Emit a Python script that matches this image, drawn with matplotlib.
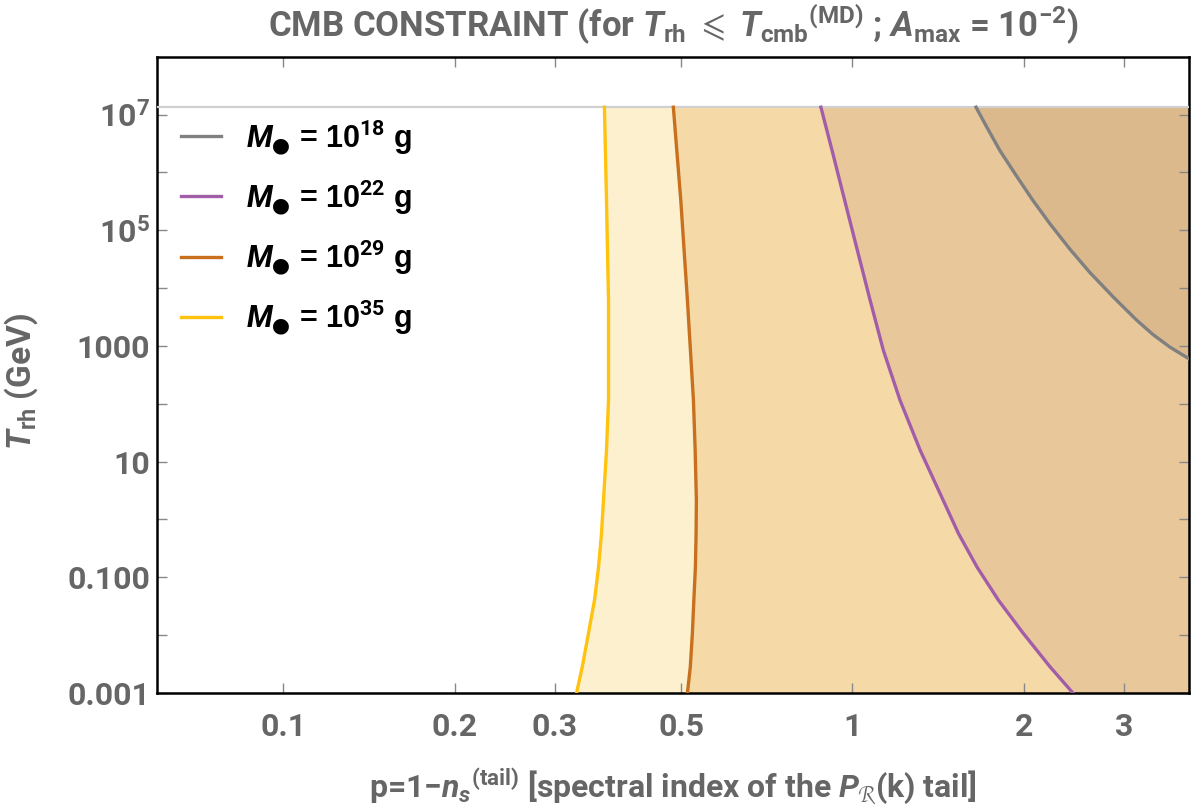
import matplotlib
matplotlib.use("Agg")
import matplotlib.pyplot as plt
from matplotlib.ticker import FixedLocator, NullLocator

# --- data (x = p, y = T_rh in GeV) ---
masses = ['18', '22', '29', '35']
line_colors = ['#808080', '#A25DA8', '#C8701E', '#FFC20E']
fill_colors = ['#DBB98C', '#E8C89B', '#F5DAA8', '#FCF0CE']

p_m18 = [1.648, 1.722, 1.815, 1.93, 2.075, 2.223, 2.41, 2.612, 2.88, 3.155, 3.37, 3.61, 3.9]
T_m18 = [1.34e7, 6.04e6, 2.39e6, 9.46e5, 3.27e5, 1.29e5, 4.7e4, 1.86e4, 6.8e3,
         2.8e3, 1.58e3, 9.55e2, 6.0e2]

p_m22 = [0.880, 0.924, 0.969, 1.020, 1.074, 1.133, 1.212, 1.315, 1.443, 1.535,
         1.655, 1.804, 1.993, 2.223, 2.439]
T_m22 = [1.34e7, 2.09e6, 3.27e5, 4.48e4, 6.14e3, 8.39e2, 1.15e2, 15.7, 2.15, 0.573,
         0.15, 0.0404, 0.0109, 0.00284, 0.001]

p_m29 = [0.4845, 0.4993, 0.5129, 0.5255, 0.5292, 0.5318, 0.5312, 0.5297, 0.5264, 0.5233, 0.5189, 0.5129]
T_m29 = [1.34e7, 3.27e5, 6.14e3, 1.15e2, 15.7, 2.15, 0.573, 0.15, 0.0404, 0.0109, 0.00284, 0.001]

p_m35 = [0.3666, 0.3697, 0.3727, 0.3727, 0.3697, 0.3652, 0.3623, 0.358, 0.3522, 0.3438, 0.3352, 0.3275]
T_m35 = [1.34e7, 3.27e5, 6.14e3, 1.15e2, 15.7, 2.15, 0.573, 0.15, 0.0404, 0.0109, 0.00284, 0.001]

T_top = 1.34e7
xticks = [0.1, 0.2, 0.3, 0.5, 1, 2, 3]
xticklabels = ['0.1', '0.2', '0.3', '0.5', '1', '2', '3']
yticks = [1e-3, 1e-2, 1e-1, 1, 10, 100, 1e3, 1e4, 1e5, 1e6, 1e7]
yticklabels = ['0.001', '', '0.100', '', '10', '', '1000', '', r'$\mathbf{10^5}$', '', r'$\mathbf{10^7}$']

curves = [(p_m18, T_m18), (p_m22, T_m22), (p_m29, T_m29), (p_m35, T_m35)]

TICKFONT = ['Roboto', 'DejaVu Sans']
GRAY = '#666666'
plt.rcParams['mathtext.fontset'] = 'custom'
plt.rcParams['mathtext.rm'] = 'Roboto:bold'
plt.rcParams['mathtext.bf'] = 'Roboto:bold'
plt.rcParams['mathtext.it'] = 'Roboto:bold:italic'
plt.rcParams['mathtext.fallback'] = 'stix'

xmin, xmax = 0.06, 3.9
ymin, ymax = 1e-3, 1e8

fig = plt.figure(figsize=(12, 8.09), dpi=100)
ax = fig.add_axes([0.1308, 0.1434, 0.86, 0.7865])
ax.set_xscale('log')
ax.set_yscale('log')

# filled regions: lightest (largest mass) first, darker ones on top
for (px, ty), fc in reversed(list(zip(curves, fill_colors))):
    ax.fill_betweenx(ty, px, xmax, color=fc, lw=0)

ax.axhline(T_top, color='#D0D0D0', lw=1.6, zorder=3)

handles = []
for (px, ty), lc, m in zip(curves, line_colors, masses):
    h, = ax.plot(px, ty, color=lc, lw=2.4, zorder=4,
                 label=r'$\mathit{M}_{●}$ = 10$^{%s}$ g' % m)
    handles.append(h)

ax.set_xlim(xmin, xmax)
ax.set_ylim(ymin, ymax)

ax.xaxis.set_major_locator(FixedLocator(xticks))
ax.xaxis.set_minor_locator(NullLocator())
ax.set_xticklabels(xticklabels)
ax.yaxis.set_major_locator(FixedLocator(yticks))
ax.yaxis.set_minor_locator(NullLocator())
ax.set_yticklabels(yticklabels)

ax.tick_params(which='both', direction='in', top=True, right=True,
               length=7, width=1, color='#888888', labelcolor=GRAY,
               labelsize=23)
ax.tick_params(axis='x', pad=14)
ax.tick_params(axis='y', pad=5)
for lab in ax.get_xticklabels() + ax.get_yticklabels():
    lab.set_family(TICKFONT)
    lab.set_fontweight('bold')

for s in ax.spines.values():
    s.set_linewidth(1.8)
    s.set_color('black')

ax.set_title(r'CMB CONSTRAINT (for $T_{\rm rh}$ $\leqslant$ $T_{\rm cmb}{}^{\rm (MD)}$ ; $A_{\rm max}$ = 10$^{-2}$)',
             family=TICKFONT, fontweight='bold', fontsize=25, color=GRAY, pad=14)
ax.set_xlabel(r'p=1$-$$n_s{}^{\rm (tail)}$ [spectral index of the $P_{\mathcal{R}}$(k) tail]',
              family=TICKFONT, fontweight='bold', fontsize=23, color=GRAY, va='center')
ax.set_ylabel(r'$T_{\rm rh}$ (GeV)', family=TICKFONT, fontweight='bold',
              fontsize=24, color=GRAY)
ax.xaxis.set_label_coords(0.5, -0.147)
ax.yaxis.set_label_coords(-0.113, 0.49)

leg = ax.legend(handles=handles, loc='upper left', bbox_to_anchor=(-0.003, 0.947),
                frameon=False, handlelength=1.3, handletextpad=0.8,
                labelspacing=0.7, prop={'family': ['Liberation Sans', 'DejaVu Sans'],
                                        'weight': 'bold', 'size': 22})
for t in leg.get_texts():
    t.set_color('black')

fig.savefig('out.png', dpi=100)
